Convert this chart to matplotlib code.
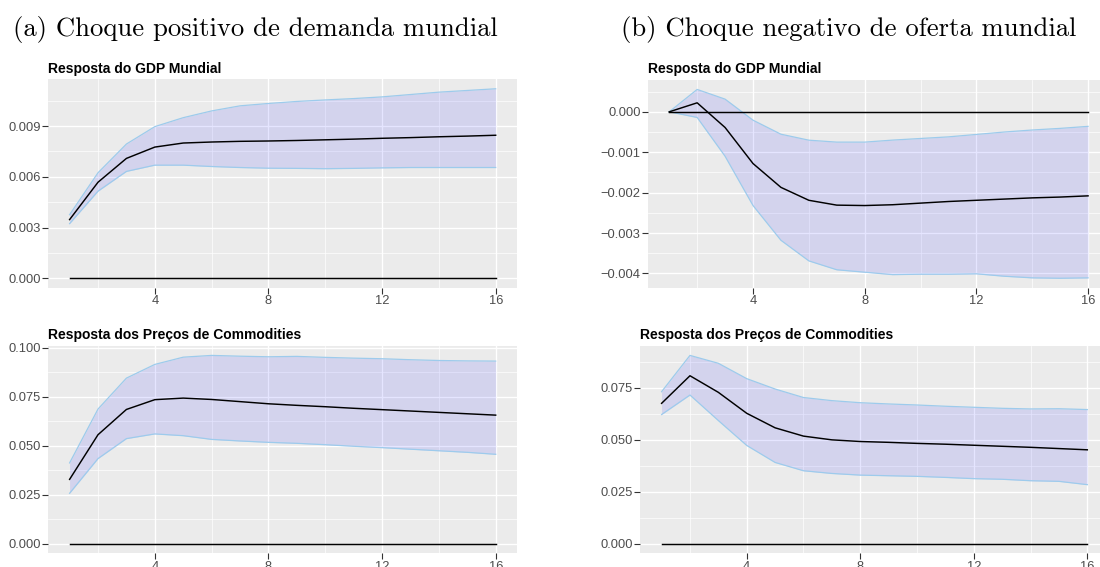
import numpy as np
import matplotlib
matplotlib.use("Agg")
import matplotlib.pyplot as plt
from matplotlib.ticker import MultipleLocator, FuncFormatter

# ---------------- data ----------------
horizon = list(range(1, 17))

# (a) positive world demand shock
gdp_a_mean = [0.00347, 0.00568, 0.00709, 0.00776, 0.00800, 0.00806, 0.00810, 0.00812,
              0.00815, 0.00819, 0.00823, 0.00828, 0.00832, 0.00837, 0.00841, 0.00846]
gdp_a_upper = [0.00376, 0.00624, 0.00794, 0.00897, 0.00950, 0.00990, 0.01020, 0.01034,
               0.01046, 0.01055, 0.01063, 0.01073, 0.01087, 0.01101, 0.01111, 0.01121]
gdp_a_lower = [0.00323, 0.00515, 0.00632, 0.00669, 0.00669, 0.00661, 0.00655, 0.00651,
               0.00650, 0.00648, 0.00650, 0.00653, 0.00655, 0.00655, 0.00655, 0.00655]

com_a_mean = [0.0328, 0.0556, 0.0685, 0.0735, 0.0743, 0.0736, 0.0725, 0.0714,
              0.0706, 0.0699, 0.0691, 0.0684, 0.0677, 0.0670, 0.0663, 0.0656]
com_a_upper = [0.0412, 0.0687, 0.0845, 0.0915, 0.0952, 0.0961, 0.0957, 0.0954,
               0.0956, 0.0951, 0.0947, 0.0944, 0.0939, 0.0935, 0.0933, 0.0932]
com_a_lower = [0.0257, 0.0434, 0.0536, 0.0560, 0.0551, 0.0532, 0.0524, 0.0517,
               0.0512, 0.0505, 0.0497, 0.0490, 0.0482, 0.0474, 0.0466, 0.0456]

# (b) negative world supply shock
gdp_b_mean = [0.0, 0.000223, -0.000388, -0.00128, -0.00187, -0.00219, -0.00231, -0.00232,
              -0.00230, -0.00226, -0.00222, -0.00219, -0.00216, -0.00213, -0.00211, -0.00208]
gdp_b_upper = [0.0, 0.000554, 0.000314, -0.000207, -0.000554, -0.000702, -0.00075, -0.00075,
               -0.00070, -0.00066, -0.00062, -0.00056, -0.00050, -0.00045, -0.00041, -0.00036]
gdp_b_lower = [0.0, -0.00014, -0.00110, -0.00232, -0.00318, -0.00369, -0.00391, -0.00397,
               -0.00403, -0.00402, -0.00402, -0.00401, -0.00407, -0.00411, -0.00412, -0.00411]

com_b_mean = [0.0676, 0.0809, 0.0729, 0.0628, 0.0558, 0.0518, 0.0500, 0.0492,
              0.0488, 0.0483, 0.0479, 0.0474, 0.0469, 0.0464, 0.0458, 0.0452]
com_b_upper = [0.0732, 0.0907, 0.0869, 0.0795, 0.0745, 0.0704, 0.0689, 0.0679,
               0.0673, 0.0668, 0.0662, 0.0657, 0.0652, 0.0649, 0.0650, 0.0646]
com_b_lower = [0.0622, 0.0716, 0.0593, 0.0473, 0.0391, 0.0351, 0.0338, 0.0330,
               0.0327, 0.0324, 0.0319, 0.0313, 0.0310, 0.0303, 0.0300, 0.0284]

zero_line = [0.0] * 16

headings = ["(a) Choque positivo de demanda mundial", "(b) Choque negativo de oferta mundial"]
title_gdp = "Resposta do GDP Mundial"
title_com = "Resposta dos Preços de Commodities"

# ---------------- style ----------------
plt.rcParams['font.family'] = ['Liberation Sans', 'DejaVu Sans']
BG = '#EBEBEB'
TICK_COL = '#4D4D4D'
FILL_COL = 'blue'
EDGE_COL = '#9DCBEC'

fig = plt.figure(figsize=(11, 5.67), dpi=100)
W, H = 1100.0, 567.0


def px_axes(left, right, top, bottom):
    return fig.add_axes([left / W, 1 - bottom / H, (right - left) / W, (bottom - top) / H])


def fmt(v, pos):
    s = f"{v:.3f}"
    if s.startswith('-'):
        if float(s) == 0:
            s = s[1:]
        else:
            s = '\u2212' + s[1:]
    return s


def panel(ax, mean, upper, lower, major, title):
    ax.set_facecolor(BG)
    for sp in ax.spines.values():
        sp.set_visible(False)
    ax.fill_between(horizon, lower, upper, color=FILL_COL, alpha=0.1, linewidth=0, zorder=2)
    ax.plot(horizon, upper, color=EDGE_COL, lw=0.9, zorder=3)
    ax.plot(horizon, lower, color=EDGE_COL, lw=0.9, zorder=3)
    ax.plot(horizon, mean, color='black', lw=1.05, zorder=4)
    ax.plot(horizon, zero_line, color='black', lw=1.05, zorder=4)
    lo = min(min(lower), 0.0, min(mean))
    hi = max(max(upper), 0.0, max(mean))
    rng = hi - lo
    ax.set_ylim(lo - 0.05 * rng, hi + 0.05 * rng)
    ax.set_xlim(0.25, 16.75)
    ax.xaxis.set_major_locator(MultipleLocator(4))
    ax.xaxis.set_minor_locator(MultipleLocator(2))
    ax.yaxis.set_major_locator(MultipleLocator(major))
    ax.yaxis.set_minor_locator(MultipleLocator(major / 2))
    ax.yaxis.set_major_formatter(FuncFormatter(fmt))
    ax.grid(which='major', color='white', lw=1.0, zorder=0)
    ax.grid(which='minor', color='white', lw=0.5, zorder=0)
    ax.set_axisbelow(True)
    ax.tick_params(which='major', length=4, width=0.8, color='#333333', labelcolor=TICK_COL,
                   labelsize=9.3, pad=1.5)
    ax.tick_params(which='minor', length=0)
    ax.set_title(title, loc='left', fontsize=10, fontweight='bold', pad=4.7)


ax1 = px_axes(48.3, 517, 79.3, 287.7)
panel(ax1, gdp_a_mean, gdp_a_upper, gdp_a_lower, 0.003, title_gdp)
ax2 = px_axes(648.3, 1109, 80, 287.7)
panel(ax2, gdp_b_mean, gdp_b_upper, gdp_b_lower, 0.001, title_gdp)
ax3 = px_axes(48.3, 517, 346, 553)
panel(ax3, com_a_mean, com_a_upper, com_a_lower, 0.025, title_com)
ax4 = px_axes(640.3, 1108.6, 346, 553)
panel(ax4, com_b_mean, com_b_upper, com_b_lower, 0.025, title_com)

fig.text(13 / W, 1 - 36 / H, headings[0], family='cmr10', fontsize=19.2, va='baseline', ha='left')
fig.text(621 / W, 1 - 36 / H, headings[1], family='cmr10', fontsize=19.2, va='baseline', ha='left')

fig.savefig('out.png', dpi=100)
